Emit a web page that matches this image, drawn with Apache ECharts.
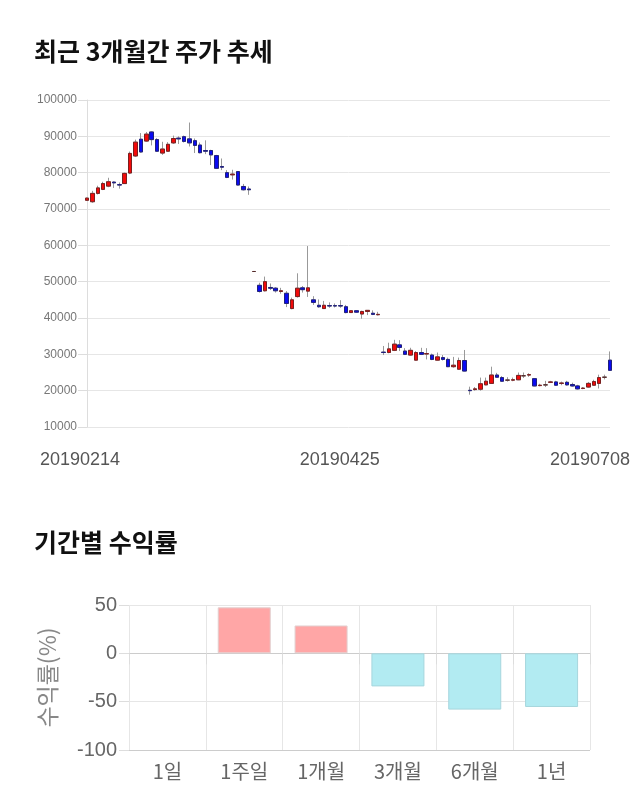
<!DOCTYPE html>
<html>
<head>
<meta charset="utf-8">
<script src="https://cdn.jsdelivr.net/npm/echarts@6/dist/echarts.min.js"></script>
<style>
html,body{margin:0;padding:0;background:#fff;}
#c{width:640px;height:810px;}
</style>
</head>
<body>
<div id="c"></div>
<script>
// ---- price chart data (trading days) ----
const dates = [
'20190214','20190215','20190218','20190219','20190220','20190221','20190222','20190225','20190226','20190227','20190228',
'20190304','20190305','20190306','20190307','20190308','20190311','20190312','20190313','20190314','20190315',
'20190318','20190319','20190320','20190321','20190322','20190325','20190326','20190327','20190328','20190329',
'20190401','20190402','20190403','20190404','20190405','20190408','20190409','20190410','20190411',
'20190415','20190416','20190417','20190418','20190419','20190422','20190423','20190424','20190425',
'20190426','20190429','20190430','20190502','20190503','20190507','20190508','20190509','20190510',
'20190513','20190514','20190515','20190516','20190517','20190520','20190521','20190522','20190523','20190524',
'20190527','20190528','20190529','20190530','20190531','20190603','20190604','20190605','20190607',
'20190610','20190611','20190612','20190613','20190614','20190617','20190618','20190619','20190620','20190621',
'20190624','20190625','20190626','20190627','20190628','20190701','20190702','20190703','20190704','20190705','20190708'
];
const opens  = [72400,72000,74300,75400,76300,77400,76700,77000,79900,84600,89200,88700,91200,89100,85400,85900,88200,89500,89900,89300,
88800,87600,86100,86100,84700,81700,80000,79400,80300,76200,75500,52800,49000,47500,48400,48200,47300,46800,42600,45900,
48300,47400,45000,43500,42600,43400,43400,43400,43100,41500,42000,41100,41800,41300,40900,30600,30500,31100,32600,30900,
29800,28400,30500,30100,29800,28400,29100,28600,26600,25900,28300,20100,20300,20400,21600,22000,24300,23600,22900,22900,
23000,24100,24300,23300,21400,21600,22300,22400,22000,22300,21700,21300,20600,21000,21500,22000,23700,28400];
const closes = [73000,74300,75800,77000,77500,77200,76600,79800,85300,88400,85700,90600,89100,85900,86500,87800,89400,89300,88600,88200,
87500,85500,85900,84900,81200,81500,78700,79600,76600,75300,75300,52800,47300,50000,48200,47500,47500,44000,45000,48200,
47800,48300,44300,43100,43500,43300,43300,43300,41500,42000,41600,41800,42100,41000,41000,30500,31500,32800,31900,30000,
31100,30500,30000,30200,28600,29300,28600,26600,27000,28300,25400,20000,20500,21900,22600,24300,23700,22600,22900,23000,
24200,24100,24400,21300,21500,21600,22400,21500,22100,21600,21300,20500,20700,22000,22500,23600,23700,25600];
const lows   = [72200,71700,74000,75200,76000,75800,75600,76900,79600,84300,85500,88500,87500,85700,84900,85700,87900,87900,88300,87200,
85400,85300,85100,82100,81000,80700,78500,78100,76500,75100,73900,52800,47000,47300,47700,47000,46700,43000,42400,45600,
47000,45800,43600,42800,42500,42800,42900,42800,41300,41400,41400,39800,40800,40800,40700,29800,30300,30900,30900,29800,
29600,28300,29800,28600,28400,28300,28300,26500,26300,25700,25300,18900,20000,20000,21500,21900,23600,22500,22500,22600,
22900,23500,23800,21200,21200,21000,22100,21300,21500,21400,21100,20300,20400,20800,21300,20600,23100,25500];
const highs  = [73100,75000,76400,77500,78600,77600,77300,80000,85800,89100,90900,91200,91400,89500,88500,88400,90200,90000,90200,93800,
89400,88300,88900,86300,84900,83900,80700,80800,80400,76900,76200,52800,49700,51400,49500,48500,48300,47400,45600,52300,
48800,59800,46000,45100,44700,44300,44000,44900,43600,42200,42200,42000,42200,42100,41700,32300,33200,34000,33900,31700,
31800,30900,31800,31700,30200,30500,29800,29100,29300,29100,31200,21100,21000,23600,23600,26600,24900,24000,23700,23600,
25000,25000,24800,23400,21900,22700,22700,22700,22500,22700,22200,21600,21000,22400,23000,24400,24400,30800];
const priceTicks = { min: 10000, max: 100000, step: 10000 };
const xTickLabels = ['20190214', '20190425', '20190708'];

// ---- period return data ----
const periods = ['1일', '1주일', '1개월', '3개월', '6개월', '1년'];
const returns = [0, 47.6, 28.8, -34.2, -58.2, -55.5];
const returnTicks = { min: -100, max: 50, step: 50 };

const n = Math.min(dates.length, opens.length);
const cats = dates.slice(0, n);
const wickData = [], bodyData = [];
for (let i = 0; i < n; i++) {
  wickData.push([opens[i], closes[i], lows[i], highs[i]]);
  bodyData.push([opens[i], closes[i], Math.min(opens[i], closes[i]), Math.max(opens[i], closes[i])]);
}
const shift = {};
shift[xTickLabels[0]] = 14; shift[xTickLabels[1]] = 12; shift[xTickLabels[2]] = 40;
const xFont = {fontFamily: 'Liberation Sans', fontSize: 18, color: '#555'};

const chart = echarts.init(document.getElementById('c'), null, {renderer: 'canvas'});
chart.setOption({
  animation: false,
  backgroundColor: '#fff',
  title: [
    {text: '최근 3개월간 주가 추세', left: 29, top: 34,
     textStyle: {fontFamily: 'Noto Sans CJK KR', fontWeight: 'bold', fontSize: 25, color: '#111'}},
    {text: '기간별 수익률', left: 29, top: 525,
     textStyle: {fontFamily: 'Noto Sans CJK KR', fontWeight: 'bold', fontSize: 25, color: '#111'}}
  ],
  grid: [
    {left: 87, right: 30, top: 100, bottom: 383, containLabel: false},
    {left: 129, right: 50, top: 605, bottom: 60, containLabel: false}
  ],
  xAxis: [
    {type: 'category', gridIndex: 0, data: cats, boundaryGap: false,
     axisLine: {show: false}, axisTick: {show: false}, splitLine: {show: false},
     axisLabel: {
       interval: (i, v) => xTickLabels.indexOf(v) >= 0,
       margin: 24, color: xFont.color, fontFamily: xFont.fontFamily, fontSize: xFont.fontSize,
       formatter: v => '{a' + (shift[v] || 0) + '|' + v + '}',
       rich: Object.fromEntries(Object.values(shift).map(p => ['a' + p, Object.assign({padding: [0, p, 0, 0]}, xFont)]))
     }},
    {type: 'category', gridIndex: 1, data: periods,
     axisLine: {show: true, lineStyle: {color: '#ccc'}},
     axisTick: {show: true, length: 11, lineStyle: {color: '#ddd'}},
     splitLine: {show: true, lineStyle: {color: '#e6e6e6'}},
     axisLabel: {margin: 11, color: '#666', fontFamily: 'Noto Sans CJK KR', fontSize: 20}}
  ],
  yAxis: [
    {type: 'value', gridIndex: 0, min: priceTicks.min, max: priceTicks.max, interval: priceTicks.step,
     axisLine: {show: true, lineStyle: {color: '#ddd'}},
     axisTick: {show: true, length: 9, lineStyle: {color: '#ddd'}},
     splitLine: {show: true, lineStyle: {color: '#e6e6e6'}},
     axisLabel: {margin: 10, color: '#777', fontFamily: 'Liberation Sans', fontSize: 12, formatter: v => String(v)}},
    {type: 'value', gridIndex: 1, min: returnTicks.min, max: returnTicks.max, interval: returnTicks.step,
     name: '수익률(%)', nameLocation: 'middle', nameGap: 70, nameRotate: 90,
     nameTextStyle: {fontFamily: 'Noto Sans CJK KR', fontSize: 23, color: '#888'},
     axisLine: {show: false},
     axisTick: {show: true, length: 10, lineStyle: {color: '#ddd'}},
     splitLine: {show: true, lineStyle: {color: ['#ccc', '#e6e6e6', '#bbb', '#e6e6e6']}},
     axisLabel: {margin: 12, color: '#666', fontFamily: 'Liberation Sans', fontSize: 20, formatter: v => String(v)}}
  ],
  series: [
    {type: 'candlestick', xAxisIndex: 0, yAxisIndex: 0, data: wickData, barWidth: 4,
     itemStyle: {color: 'rgba(0,0,0,0)', color0: 'rgba(0,0,0,0)', borderColor: '#999', borderColor0: '#999', borderColorDoji: '#999', borderWidth: 1}},
    {type: 'candlestick', xAxisIndex: 0, yAxisIndex: 0, data: bodyData, barWidth: 4,
     itemStyle: {color: '#f20a0a', color0: '#0a0af2', borderColor: '#7a2020', borderColor0: '#20207a', borderColorDoji: '#552a2a', borderWidth: 1}},
    {type: 'bar', xAxisIndex: 1, yAxisIndex: 1, barWidth: '69%',
     data: returns.map(v => ({value: v, itemStyle: v > 0
        ? {color: '#ffa6a6', borderColor: '#e2cfcf', borderWidth: 1}
        : v < 0 ? {color: '#b2ebf2', borderColor: '#a6d6dd', borderWidth: 1}
        : {color: 'rgba(0,0,0,0)', borderWidth: 0}}))}
  ]
});
</script>
</body>
</html>
